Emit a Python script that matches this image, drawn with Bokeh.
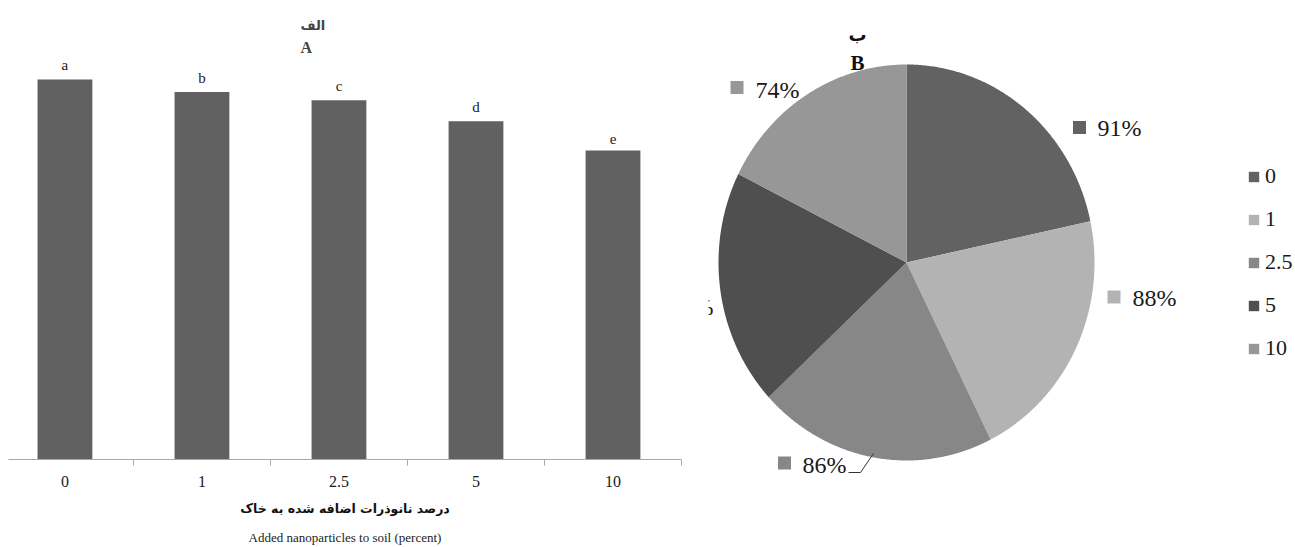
import numpy as np
from bokeh.plotting import figure
from bokeh.models import (Range1d, LinearAxis, FixedTicker, Title, Label, Legend,
                          LegendItem, ColumnDataSource)
from bokeh.layouts import row
from bokeh.embed import file_html
from bokeh.resources import INLINE
from bokeh.core.properties import value

# ---------------- data ----------------
categories = ["0", "1", "2.5", "5", "10"]
germination = [91, 88, 86, 81, 74]
letters = ["a", "b", "c", "d", "e"]
pie_labels = ["91%", "88%", "86%", "81%", "74%"]
colors = ["#626262", "#b3b3b3", "#878787", "#4f4f4f", "#979797"]

title_a_fa = "الف"
title_a_en = "A"
title_b_fa = "ب"
title_b_en = "B"
xlabel_fa = "درصد نانوذرات اضافه شده به خاک"
xlabel_en = "Added nanoparticles to soil (percent)"

SERIF = "Liberation Serif"
ARAB = "DejaVu Sans"

# ---------------- bar chart ----------------
xs = list(range(len(categories)))
bar = figure(width=708, height=547, x_range=Range1d(-0.412, 4.5), y_range=Range1d(0, 96.5),
             output_backend="svg", toolbar_location=None,
             min_border_left=8, min_border_right=27, min_border_top=56, min_border_bottom=87,
             x_axis_type=None, y_axis_type=None, frame_align=False)
bar.outline_line_color = None
bar.xgrid.visible = False
bar.ygrid.visible = False

src = ColumnDataSource(dict(x=xs, top=germination, letter=letters))
bar.vbar(x="x", top="top", width=0.4, bottom=0, source=src,
         fill_color="#616161", line_color=None)
bar.text(x="x", y="top", text="letter", source=src, text_align="center",
         text_baseline="bottom", y_offset=-6, text_font=value(SERIF),
         text_font_size="15px", text_color="#222222")

xaxis = LinearAxis(ticker=FixedTicker(ticks=xs, minor_ticks=[i + 0.5 for i in xs]),
                   major_label_overrides={i: c for i, c in enumerate(categories)})
xaxis.axis_line_color = "#a8a8a8"
xaxis.major_tick_out = 0
xaxis.major_tick_in = 0
xaxis.minor_tick_out = 6
xaxis.minor_tick_in = 0
xaxis.minor_tick_line_color = "#a8a8a8"
xaxis.major_label_standoff = 10
xaxis.major_label_text_font = SERIF
xaxis.major_label_text_font_size = "16px"
xaxis.major_label_text_color = "#1a1a1a"
xaxis.axis_label = xlabel_fa
xaxis.axis_label_text_font = ARAB
xaxis.axis_label_text_font_style = "bold"
xaxis.axis_label_text_font_size = "12.5px"
xaxis.axis_label_text_color = "#111111"
xaxis.axis_label_standoff = 11
bar.add_layout(xaxis, "below")

xaxis2 = LinearAxis(ticker=FixedTicker(ticks=[]))
xaxis2.axis_line_color = None
xaxis2.major_tick_line_color = None
xaxis2.minor_tick_line_color = None
xaxis2.major_tick_out = 0
xaxis2.major_tick_in = 0
xaxis2.minor_tick_out = 0
xaxis2.minor_tick_in = 0
xaxis2.major_label_standoff = 0
xaxis2.axis_label = xlabel_en
xaxis2.axis_label_text_font = SERIF
xaxis2.axis_label_text_font_style = "normal"
xaxis2.axis_label_text_font_size = "13px"
xaxis2.axis_label_text_color = "#222222"
xaxis2.axis_label_standoff = 11
bar.add_layout(xaxis2, "below")

bar.add_layout(Title(text=title_a_en, align="left", offset=292, text_font=SERIF,
                     text_font_size="16px", text_font_style="bold", standoff=2), "above")
bar.add_layout(Title(text=title_a_fa, align="left", offset=292, text_font=ARAB,
                     text_font_size="13px", text_font_style="bold", standoff=5), "above")

# ---------------- pie chart ----------------
PW, PH = 587, 547
pie = figure(width=PW, height=PH, x_range=Range1d(0, PW), y_range=Range1d(0, PH),
             output_backend="svg", toolbar_location=None, min_border=0,
             x_axis_type=None, y_axis_type=None, frame_align=False)
pie.outline_line_color = None
pie.xgrid.visible = False
pie.ygrid.visible = False

cx, cy, rx, ry = 198, 285, 188, 198
total = float(sum(germination))
cum = np.concatenate([[0.0], np.cumsum(germination)]) / total * 2 * np.pi
px, py = [], []
for i in range(len(germination)):
    t = np.linspace(np.pi / 2 - cum[i], np.pi / 2 - cum[i + 1], 160)
    px.append([cx] + list(cx + rx * np.cos(t)))
    py.append([cy] + list(cy + ry * np.sin(t)))
psrc = ColumnDataSource(dict(xs=px, ys=py, color=colors))
pr = pie.patches("xs", "ys", source=psrc, fill_color="color", line_color=None)

# data label layout (marker square centre and text left edge)
lab_sq_x = [371, 405.5, 76, -62, 28.5]
lab_sq_y = [420, 250.5, 84.5, 241, 460]
lab_tx = [389, 424, 94, -39, 47]
lab_ty = [420, 250, 83, 241, 458]
lsrc = ColumnDataSource(dict(sx=lab_sq_x, sy=lab_sq_y, tx=lab_tx, ty=lab_ty,
                             text=pie_labels, color=colors))
pie.scatter("sx", "sy", source=lsrc, marker="square", size=13, fill_color="color",
            line_color=None)
pie.text("tx", "ty", text="text", source=lsrc, text_align="left", text_baseline="middle",
         text_font=value(SERIF), text_font_size="24px", text_color="#1a1a1a")
pie.line([140, 152, 165], [75, 75, 94], line_color="#333333", line_width=1)

pie.add_layout(Label(x=149, y=513, text=title_b_fa, text_align="center", text_baseline="middle",
                     text_font=ARAB, text_font_size="18px", text_font_style="bold",
                     text_color="#111111"))
pie.add_layout(Label(x=149, y=485, text=title_b_en, text_align="center", text_baseline="middle",
                     text_font=SERIF, text_font_size="21px", text_font_style="bold",
                     text_color="#111111"))

legend = Legend(items=[LegendItem(label=c, renderers=[pr], index=i)
                       for i, c in enumerate(categories)],
                location=(539, 184), orientation="vertical",
                glyph_width=13, glyph_height=13, label_height=30, spacing=13,
                padding=0, margin=0, border_line_color=None, background_fill_alpha=0,
                label_text_font=SERIF, label_text_font_size="22px",
                label_text_color="#1a1a1a", label_standoff=5)
pie.add_layout(legend)

layout = row(bar, pie)
open("out.html", "w").write(file_html(layout, INLINE))
